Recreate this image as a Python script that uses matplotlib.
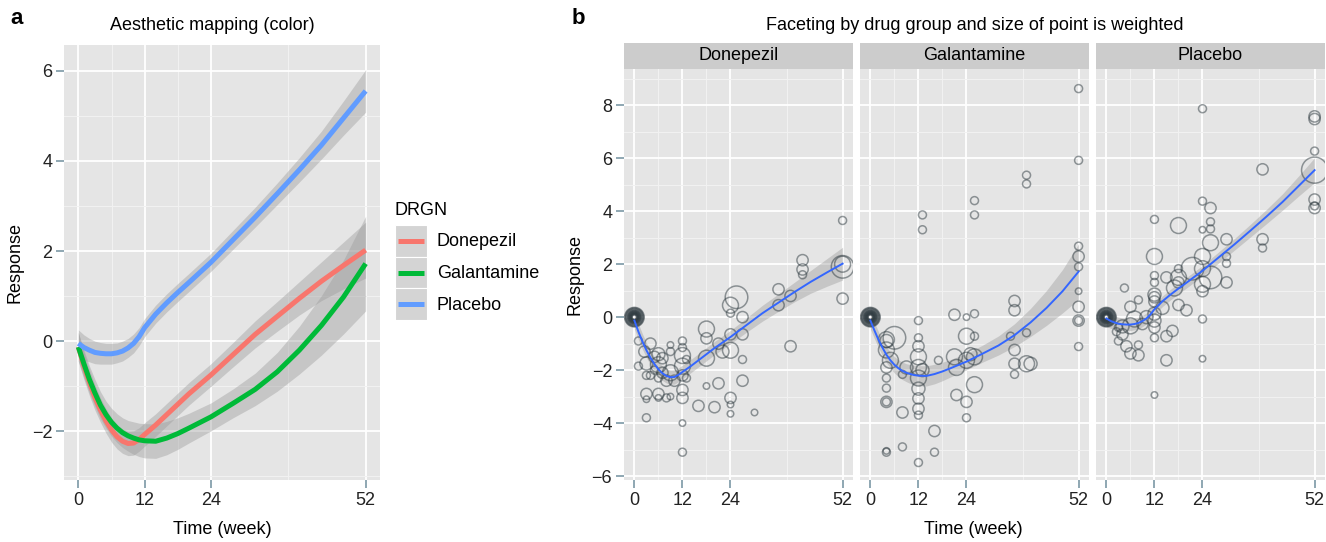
import matplotlib
matplotlib.use("Agg")
import matplotlib.pyplot as plt
from matplotlib.patches import Rectangle
import numpy as np

plt.rcParams['font.family'] = ['Liberation Sans', 'DejaVu Sans']

# loess fits per drug group (week, response, half-width of the band)
t_fit = [0, 1, 2, 3, 4, 5, 6, 7, 8, 9, 10, 11, 12, 14, 16, 18, 20, 24, 28, 32, 36, 40, 44, 48, 52]
don_fit = [-0.13, -0.55, -0.92, -1.25, -1.53, -1.77, -1.97, -2.12, -2.22, -2.27, -2.26, -2.18, -2.07,
           -1.86, -1.63, -1.40, -1.17, -0.75, -0.30, 0.15, 0.55, 0.95, 1.33, 1.68, 2.02]
gal_fit = [-0.13, -0.50, -0.85, -1.15, -1.42, -1.63, -1.80, -1.93, -2.03, -2.10, -2.15, -2.19, -2.21,
           -2.22, -2.15, -2.05, -1.93, -1.68, -1.38, -1.07, -0.68, -0.20, 0.35, 0.98, 1.72]
pla_fit = [-0.05, -0.14, -0.20, -0.25, -0.27, -0.28, -0.28, -0.26, -0.22, -0.15, -0.05, 0.10, 0.30,
           0.60, 0.85, 1.08, 1.30, 1.75, 2.25, 2.75, 3.27, 3.80, 4.35, 4.95, 5.55]
don_se = [0.32, 0.30, 0.29, 0.28, 0.27, 0.27, 0.27, 0.27, 0.27, 0.27, 0.27, 0.26, 0.26,
          0.25, 0.25, 0.25, 0.25, 0.25, 0.27, 0.30, 0.33, 0.37, 0.43, 0.52, 0.62]
gal_se = [0.32, 0.31, 0.30, 0.30, 0.30, 0.30, 0.31, 0.32, 0.33, 0.34, 0.36, 0.37, 0.38,
          0.38, 0.37, 0.35, 0.33, 0.31, 0.32, 0.36, 0.43, 0.53, 0.66, 0.82, 1.05]
pla_se = [0.30, 0.28, 0.26, 0.25, 0.24, 0.23, 0.23, 0.22, 0.22, 0.21, 0.21, 0.20, 0.20,
          0.20, 0.20, 0.20, 0.20, 0.20, 0.21, 0.22, 0.24, 0.27, 0.31, 0.38, 0.47]

groups = ['Donepezil', 'Galantamine', 'Placebo']
group_colors = ['#F8766D', '#00BA38', '#619CFF']

# observed responses: (week, response, weight)
blob = [(0, 0, w) for w in [0.5, 0.5, 1, 1, 1, 1.5, 1.5, 2, 2, 2.5, 3, 3, 4, 4, 5, 6, 7, 8, 9]]

don_pts = blob + [
    (1, -0.9, 1.5), (1, -1.85, 1.5), (2.5, -1.3, 3), (3, -1.75, 4), (3, -2.2, 1.5), (3, -2.9, 3),
    (3, -3.1, 1), (3, -3.8, 1.5), (4, -1.0, 3), (4, -2.2, 1.5), (5, -1.5, 3), (5, -2.0, 1.5),
    (6, -1.4, 4), (6, -1.8, 6), (6, -2.3, 1.5), (6, -2.9, 3), (6, -3.05, 1), (7, -1.55, 3),
    (7, -2.1, 3), (8, -2.4, 3), (8, -3.05, 1.5), (9, -2.1, 6), (9, -1.3, 1.5), (9, -1.05, 1),
    (9, -3.0, 1), (10, -2.4, 3), (12, -0.9, 1.5), (12, -1.15, 1.5), (12, -1.45, 6), (12, -1.85, 6),
    (12, -2.2, 3), (12, -2.75, 3), (12, -3.05, 3), (12, -4.0, 1), (12, -5.1, 1.5), (13, -1.6, 1.5),
    (13, -2.3, 1.5), (16, -3.35, 3), (18, -0.45, 6), (18, -0.8, 3), (18, -1.55, 6), (18, -2.6, 1),
    (20, -3.4, 3), (21, -2.5, 3), (21, -1.0, 3), (22, -1.3, 4), (24, 0.45, 6), (24, 0.15, 1.5),
    (24, -0.65, 3), (24, -1.25, 6), (24, -3.05, 3), (24, -3.3, 1), (24, -3.65, 1), (25.5, 0.75, 12),
    (27, 0.0, 3), (27, -0.65, 3), (27, -1.6, 1.5), (27, -2.4, 3), (30, -3.6, 1), (36, 1.05, 3),
    (36, 0.45, 3), (39, 0.8, 3), (39, -1.1, 3), (42, 2.15, 3), (42, 1.8, 3), (42, 1.6, 1.5),
    (52, 3.65, 1.5), (52, 2.0, 6), (52, 1.9, 12), (52, 0.7, 3),
]

gal_pts = blob + [
    (52, 8.63, 1.5), (52, 5.92, 1.5), (39, 5.36, 1.5), (39, 5.03, 1.5), (26, 4.4, 1.5), (26, 3.86, 1.5),
    (13, 3.86, 1.5), (13, 3.3, 1.5), (52, 2.68, 1.5), (52, 2.29, 3), (52, 1.9, 1.5), (52, 0.98, 1),
    (52, 0.39, 3), (52, -0.13, 3), (52, -0.13, 1.5), (52, -1.11, 1.5), (36, 0.61, 3), (36, 0.26, 3),
    (36, -1.24, 3), (36, -1.76, 3), (36, -2.16, 1.5), (39, -0.59, 1.5), (39, -1.76, 6), (40, -1.76, 4),
    (35, -0.72, 1.5), (26, 0.13, 1.5), (24, 0.0, 1), (21, 0.09, 3), (24, -0.72, 6), (26, -0.72, 1.5),
    (17, -1.63, 1.5), (21, -1.5, 6), (21.5, -1.9, 6), (24, -1.63, 6), (26, -1.5, 6), (26, -2.55, 6),
    (21.5, -2.94, 3), (24, -3.2, 3), (24, -3.8, 1.5), (25, -1.4, 4), (12, -0.13, 1.5), (12, -0.78, 1.5),
    (12, -1.1, 3), (12, -1.5, 6), (12, -1.9, 6), (12, -2.3, 6), (12, -2.7, 4), (12, -3.07, 3),
    (12, -3.46, 3), (12, -3.7, 1.5), (12, -5.49, 1.5), (13, -2.0, 4), (16, -4.3, 3), (16, -5.1, 1.5),
    (8, -3.6, 3), (8, -2.16, 1.5), (8, -4.9, 1.5), (4, -5.1, 1.5), (4, -5.05, 1), (4, -3.2, 3),
    (4, -3.2, 1.5), (4, -2.68, 1.5), (4, -2.3, 1.5), (4, -0.85, 6), (4, -1.24, 6), (5, -1.63, 6),
    (6, -0.78, 12), (4, -1.9, 3), (4, -0.9, 4), (9, -1.9, 4),
]

pla_pts = blob + [
    (24, 7.87, 1.5), (52, 7.58, 3), (52, 7.48, 3), (52, 6.27, 1.5), (52, 5.55, 16), (52, 4.44, 3),
    (52, 4.12, 3), (52, 4.2, 1.5), (39, 5.58, 3), (24, 4.38, 1.5), (26, 4.12, 3), (26, 3.6, 1.5),
    (26, 3.33, 1.5), (24, 3.3, 1), (18, 3.46, 6), (12, 3.69, 1.5), (26, 2.81, 6), (30, 2.94, 3),
    (30, 2.29, 1.5), (30, 2.03, 1.5), (30, 1.31, 3), (39, 2.94, 3), (39, 2.61, 1.5), (24, 2.29, 6),
    (24, 1.83, 6), (26, 1.5, 12), (24, 1.24, 6), (24, 0.98, 3), (21.5, 1.83, 12), (18, 1.83, 1.5),
    (18, 1.5, 6), (18, 1.31, 3), (17, 1.1, 6), (20, 0.26, 3), (18, 0.46, 3), (15, 1.5, 3),
    (12, 2.29, 6), (12, 1.57, 1.5), (12, 1.31, 1.5), (12, 0.85, 4), (12, 0.75, 3), (12, 0.59, 3),
    (12, 0.13, 4), (12, -0.13, 4), (12, -0.39, 3), (12, -0.78, 1.5), (12, -2.94, 1), (8, 0.65, 1.5),
    (4.5, 1.1, 1.5), (6, 0.39, 3), (24, -0.07, 1.5), (24, -1.57, 1), (15, -1.63, 3), (15, -0.72, 3),
    (16.5, -0.52, 3), (14, 0.35, 4), (10, 0.0, 4), (3, -0.39, 1.5), (4, -0.65, 3), (5, -1.1, 3),
    (6, -1.37, 3), (8, -1.44, 3), (8, -1.05, 1.5), (6, -0.33, 6), (7, -0.07, 6), (2.5, -0.55, 1.5),
    (3, -0.9, 1.5), (9, -0.26, 3), (4, -0.35, 4),
]

fits = [don_fit, gal_fit, pla_fit]
ses = [don_se, gal_se, pla_se]
points = [don_pts, gal_pts, pla_pts]

x_major = [0, 12, 24, 52]
x_minor = [6, 18, 38]

W, H = 1326, 542
fig = plt.figure(figsize=(W / 100, H / 100), dpi=100)


def box(l, t, r, b):
    return [l / W, 1 - b / H, (r - l) / W, (b - t) / H]


def style_panel(ax, yt, ym):
    ax.set_facecolor('#E5E5E5')
    for s in ax.spines.values():
        s.set_visible(False)
    ax.set_xticks(x_major)
    ax.set_xticks(x_minor, minor=True)
    ax.set_yticks(yt)
    ax.set_yticks(ym, minor=True)
    ax.grid(which='major', color='white', lw=1.3)
    ax.grid(which='minor', color='#F2F2F2', lw=0.7)
    ax.set_axisbelow(True)
    ax.tick_params(which='major', length=5.5, width=1.2, color='#7C98A6',
                   labelsize=13, labelcolor='#222222', pad=3)
    ax.tick_params(which='minor', length=0)
    ax.set_xlim(-2.6, 54.6)


# panel a: smooth per group with colour mapping
ax_a = fig.add_axes(box(64, 45, 380, 480))
style_panel(ax_a, [-2, 0, 2, 4, 6], [-3, -1, 1, 3, 5])
ax_a.set_ylim(-3.08, 6.57)
for fit, se, col in zip(fits, ses, group_colors):
    f = np.array(fit)
    e = np.array(se)
    ax_a.fill_between(t_fit, f - e, f + e, color='#999999', alpha=0.4, lw=0)
    ax_a.plot(t_fit, f, color=col, lw=3.6, solid_capstyle='butt')
ax_a.set_ylabel('Response', fontsize=13, labelpad=6)
fig.text(222 / W, 1 - 530 / H, 'Time (week)', ha='center', va='center', fontsize=13)
fig.text(212 / W, 1 - 26 / H, 'Aesthetic mapping (color)', ha='center', va='center', fontsize=13)
fig.text(10 / W, 1 - 18 / H, 'a', ha='left', va='center', fontsize=16, fontweight='bold')

# legend
lax = fig.add_axes(box(395, 225, 427, 320))
lax.set_xlim(0, 1)
lax.set_ylim(0, 3)
lax.axis('off')
for i, (name, col) in enumerate(zip(groups, group_colors)):
    y0 = 2 - i
    lax.add_patch(Rectangle((0, y0), 1, 1, facecolor='#D4D4D4', edgecolor='white', lw=0.8))
    lax.plot([0.1, 0.9], [y0 + 0.5, y0 + 0.5], color=col, lw=3.6, solid_capstyle='butt')
    fig.text(437 / W, 1 - (241 + 32 * i) / H, name, ha='left', va='center', fontsize=13)
fig.text(395 / W, 1 - 210 / H, 'DRGN', ha='left', va='center', fontsize=13)

# panel b: facets with weighted point size
lefts = [624, 860, 1096]
for k, (name, pts, fit, se) in enumerate(zip(groups, points, fits, ses)):
    l = lefts[k]
    ax = fig.add_axes(box(l, 69, l + 229, 480))
    style_panel(ax, [-6, -4, -2, 0, 2, 4, 6, 8], [-5, -3, -1, 1, 3, 5, 7, 9])
    ax.set_ylim(-6.15, 9.37)
    f = np.array(fit)
    e = np.array(se)
    ax.fill_between(t_fit, f - e, f + e, color='#999999', alpha=0.4, lw=0, zorder=2)
    pt = np.array(pts)
    ax.scatter(pt[:, 0], pt[:, 1], s=22 * pt[:, 2], facecolors='none',
               edgecolors='#2E3A40', alpha=0.5, linewidths=1.1, zorder=3)
    ax.plot(t_fit, f, color='#3366FF', lw=1.4, zorder=4)
    if k == 0:
        ax.set_ylabel('Response', fontsize=13, labelpad=6)
    else:
        ax.tick_params(axis='y', which='both', left=False, labelleft=False)
    sax = fig.add_axes(box(l, 43, l + 229, 69))
    sax.set_facecolor('#CCCCCC')
    sax.set_xticks([])
    sax.set_yticks([])
    for s in sax.spines.values():
        s.set_visible(False)
    sax.text(0.5, 0.5, name, ha='center', va='center', fontsize=13, transform=sax.transAxes)

fig.text(975 / W, 1 - 26 / H, 'Faceting by drug group and size of point is weighted',
         ha='center', va='center', fontsize=13)
fig.text(973 / W, 1 - 530 / H, 'Time (week)', ha='center', va='center', fontsize=13)
fig.text(572 / W, 1 - 18 / H, 'b', ha='left', va='center', fontsize=16, fontweight='bold')

fig.savefig('out.png', dpi=100)
